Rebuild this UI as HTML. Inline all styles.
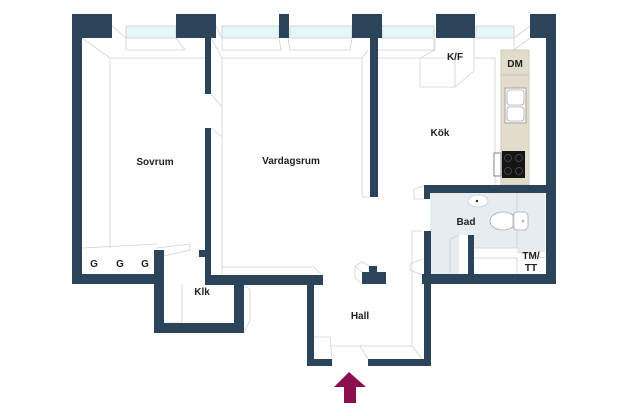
<!DOCTYPE html>
<html><head><meta charset="utf-8"><style>
html,body{margin:0;padding:0;background:#fff;}
svg{display:block}
text{font-family:"Liberation Sans",sans-serif;font-size:10px;font-weight:bold;fill:#222;text-anchor:middle}
</style></head><body>
<svg width="625" height="416" viewBox="0 0 625 416" xmlns="http://www.w3.org/2000/svg">
<g fill="#e6f5f9" stroke="#c8cfd3" stroke-width="0.8">
<rect x="126" y="26" width="50" height="12"/>
<rect x="222" y="26" width="57" height="12"/>
<rect x="290" y="26" width="62" height="12"/>
<rect x="382" y="26" width="52" height="12"/>
<rect x="476" y="26" width="38" height="12"/>
</g>
<g fill="none" stroke="#cfd3d6" stroke-width="0.8">
<polyline points="112,26 126,38 126,50 185,50 176,38"/>
<polyline points="216,26 222,38 222,50 281,50 279,38"/>
<polyline points="288,38 290,50 350,50 352,38"/>
<polyline points="82,38 110,58 205,58"/>
<line x1="110" y1="58" x2="110" y2="248"/>
<polyline points="211,38 222,58 222,275"/>
<polyline points="211,94 222,107"/>
<polyline points="211,128 222,137"/>
<polyline points="222,58 362,58 368,50"/>
<polyline points="362,58 362,197 370,197"/>
<polyline points="378,50 434,50 434,26"/>
<polyline points="378,58 420,58"/>
<polyline points="435,38 435,50 420,58 420,87 455,87 474,71 474,38"/>
<polyline points="420,58 435,58 455,58"/>
<polyline points="455,58 455,87"/>
<polyline points="474,58 495,58 495,185"/>
<polyline points="530,26 514,38 514,50 530,38"/>
<polyline points="222,267 314,267 322,275"/>
<polyline points="157,248 190,244 190,250 164,256"/>
<polyline points="82,248 157,244"/>
<polyline points="182,284 182,323 164,323"/>
<polyline points="244,284 250,290 250,320 244,333"/>
<polyline points="313,337 330,337 332,359"/>
<polyline points="331,346 360,346 368,359"/>
<polyline points="360,346 412,346 422,359"/>
<line x1="412" y1="346" x2="412" y2="272"/>
<polyline points="422,231 412,231 412,275"/>
<polyline points="422,259 410,264 410,270 422,275"/>
<polyline points="424,186 414,189 414,199 424,199"/>
<polyline points="362,272 355,266 355,278 362,284"/>
<polyline points="369,266 362,262 355,266"/>
</g>
<polygon points="430,193 545,193 545,252 517,252 517,248 473,248 473,235 459,235 459,275 430,275" fill="#e7ecf1"/>
<g fill="none" stroke="#c8cfd3" stroke-width="0.8">
<line x1="517" y1="193" x2="517" y2="248"/>
<line x1="473" y1="248" x2="517" y2="248"/>
<polyline points="459,235 450,239 450,273"/>
<line x1="473" y1="258" x2="517" y2="258"/>
<polyline points="517,252 545,258"/>
<line x1="517" y1="258" x2="517" y2="275"/>
<ellipse cx="478" cy="201" rx="10" ry="6" fill="#fff"/>
</g>
<g fill="#fff" stroke="#aab" stroke-width="0.8">
<ellipse cx="503" cy="221" rx="13" ry="9"/>
<rect x="513" y="212" width="15" height="18" rx="4"/>
</g>
<line x1="514" y1="213" x2="514" y2="229" stroke="#aab" stroke-width="0.6"/>
<circle cx="523" cy="221" r="1" fill="none" stroke="#888" stroke-width="0.6"/>
<circle cx="477" cy="201" r="1.2" fill="#333"/>
<rect x="501" y="50" width="28" height="135" fill="#e1dccc" stroke="#c8c3b3" stroke-width="0.8"/>
<line x1="501" y1="75" x2="529" y2="75" stroke="#c8c3b3"/>
<rect x="505" y="88" width="21" height="35" fill="#f2f2f2" stroke="#999" stroke-width="0.8"/>
<rect x="507" y="90" width="17" height="15" rx="3" fill="#fff" stroke="#999" stroke-width="0.6"/>
<rect x="507" y="107" width="17" height="14" rx="3" fill="#fff" stroke="#999" stroke-width="0.6"/>
<rect x="502" y="151" width="23" height="27" fill="#151515"/>
<rect x="494" y="153" width="7" height="23" fill="#fff" stroke="#666" stroke-width="0.8"/>
<g fill="none" stroke="#555" stroke-width="0.7"><circle cx="508" cy="158" r="3.5"/><circle cx="519" cy="158" r="3.5"/><circle cx="508" cy="171" r="3.5"/><circle cx="519" cy="171" r="3.5"/></g>
<g fill="#2c4459">
<rect x="72" y="14" width="40" height="24"/>
<rect x="72" y="14" width="10" height="270"/>
<rect x="72" y="274" width="92" height="10"/>
<rect x="154" y="250" width="10" height="83"/>
<rect x="157" y="250" width="7" height="6"/>
<rect x="154" y="323" width="90" height="10"/>
<rect x="234" y="284" width="10" height="49"/>
<rect x="176" y="14" width="40" height="24"/>
<rect x="205" y="38" width="6" height="56"/>
<rect x="205" y="128" width="6" height="156"/>
<rect x="199" y="250" width="7" height="7"/>
<rect x="205" y="275" width="118" height="10"/>
<rect x="279" y="14" width="10" height="24"/>
<rect x="352" y="14" width="30" height="24"/>
<rect x="370" y="38" width="8" height="159"/>
<rect x="436" y="14" width="39" height="24"/>
<rect x="530" y="14" width="26" height="24"/>
<rect x="546" y="14" width="10" height="270"/>
<rect x="424" y="185" width="122" height="8"/>
<rect x="424" y="185" width="6" height="14"/>
<rect x="424" y="231" width="7" height="135"/>
<rect x="468" y="235" width="6" height="40"/>
<rect x="422" y="274" width="134" height="10"/>
<rect x="307" y="284" width="7" height="82"/>
<rect x="307" y="359" width="25" height="7"/>
<rect x="368" y="359" width="63" height="7"/>
<rect x="362" y="272" width="24" height="12"/>
<rect x="369" y="266" width="8" height="8"/>
</g>
<polygon points="349,372 366,387 356,387 356,403 344,403 344,387 334,387" fill="#8b0f4f"/>
<text x="155" y="165">Sovrum</text>
<text x="291" y="164">Vardagsrum</text>
<text x="440" y="136">Kök</text>
<text x="466" y="225">Bad</text>
<text x="202" y="295">Klk</text>
<text x="360" y="319">Hall</text>
<text x="94" y="267">G</text>
<text x="120" y="267">G</text>
<text x="145" y="267">G</text>
<text x="531" y="259">TM/</text>
<text x="531" y="271">TT</text>
<text x="455" y="60">K/F</text>
<text x="515" y="67">DM</text>
</svg>
</body></html>
